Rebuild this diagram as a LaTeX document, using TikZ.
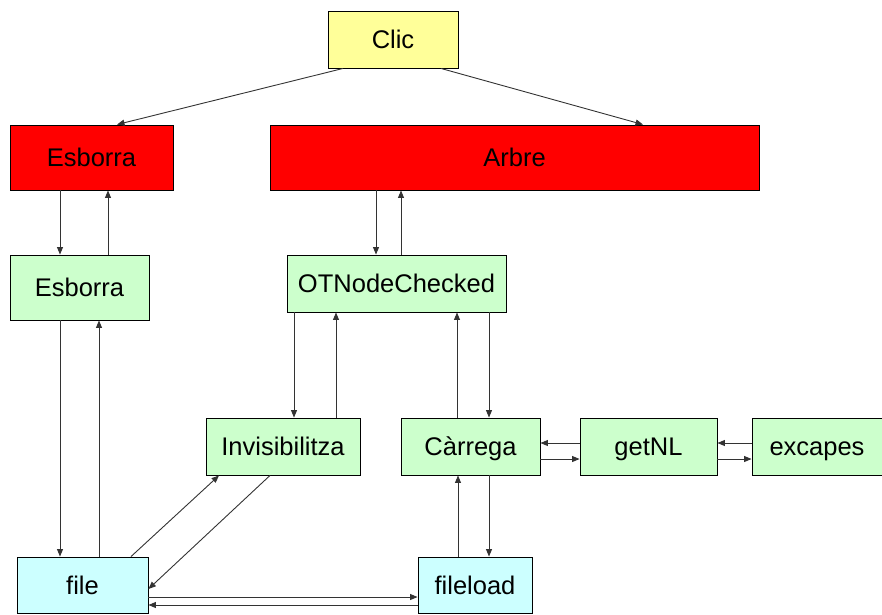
\documentclass[tikz,border=0pt]{standalone}
\usepackage{fontspec}
\setmainfont{Liberation Sans}
\usetikzlibrary{arrows.meta}
\definecolor{cyel}{HTML}{FFFF99}
\definecolor{cred}{HTML}{FF0000}
\definecolor{cgrn}{HTML}{CCFFCC}
\definecolor{ccya}{HTML}{CCFFFF}
\definecolor{cline}{HTML}{333333}
\begin{document}
\begin{tikzpicture}[x=1pt,y=-1pt,
  box/.style={draw=black,line width=0.9pt,inner sep=0pt,text height=18pt,text depth=0pt,font=\fontsize{25.5}{30}\selectfont},
  conn/.style={draw=cline,line width=0.9pt,-{Triangle[length=7.5pt,width=6pt]}}]
\useasboundingbox (0,0) rectangle (882,614);
\node[box,fill=cyel,minimum width=130pt,minimum height=57pt] (clic) at (393,39.5) {Clic};
\node[box,fill=cred,minimum width=163pt,minimum height=65pt] (esr) at (91.5,157.5) {Esborra};
\node[box,fill=cred,minimum width=489pt,minimum height=65pt] (arb) at (514.5,157.5) {Arbre};
\node[box,fill=cgrn,minimum width=139pt,minimum height=65pt] (esg) at (79.5,287.5) {Esborra};
\node[box,fill=cgrn,minimum width=219pt,minimum height=57pt] (otn) at (396.5,283.5) {OTNodeChecked};
\node[box,fill=cgrn,minimum width=154pt,minimum height=57pt] (inv) at (283,446.5) {Invisibilitza};
\node[box,fill=cgrn,minimum width=139pt,minimum height=57pt] (car) at (470.5,446.5) {Càrrega};
\node[box,fill=cgrn,minimum width=137pt,minimum height=57pt] (get) at (648.5,446.5) {getNL};
\node[box,fill=cgrn,minimum width=130pt,minimum height=57pt] (exc) at (817,446.5) {excapes};
\node[box,fill=ccya,minimum width=131pt,minimum height=56pt] (file) at (82.5,585) {file};
\node[box,fill=ccya,minimum width=114pt,minimum height=56pt] (fld) at (475,585) {fileload};
% Clic
\draw[conn] (clic.south -| 343,0) -- (esr.north -| 117,0);
\draw[conn] (clic.south -| 441,0) -- (arb.north -| 643,0);
% Esborra red <-> green
\draw[conn] (esr.south -| 60,0) -- (esg.north -| 60,0);
\draw[conn] (esg.north -| 108,0) -- (esr.south -| 108,0);
% Arbre <-> OTNodeChecked
\draw[conn] (arb.south -| 376,0) -- (otn.north -| 376,0);
\draw[conn] (otn.north -| 401,0) -- (arb.south -| 401,0);
% Esborra green <-> file
\draw[conn] (esg.south -| 60,0) -- (file.north -| 60,0);
\draw[conn] (file.north -| 99,0) -- (esg.south -| 99,0);
% OTNode <-> Invisibilitza
\draw[conn] (otn.south -| 294,0) -- (inv.north -| 294,0);
\draw[conn] (inv.north -| 336,0) -- (otn.south -| 336,0);
% OTNode <-> Carrega
\draw[conn] (car.north -| 457,0) -- (otn.south -| 457,0);
\draw[conn] (otn.south -| 489,0) -- (car.north -| 489,0);
% Carrega <-> fileload
\draw[conn] (fld.north -| 458,0) -- (car.south -| 458,0);
\draw[conn] (car.south -| 489,0) -- (fld.north -| 489,0);
% Carrega <-> getNL
\draw[conn] (get.west |- 0,443) -- (car.east |- 0,443);
\draw[conn] (car.east |- 0,459) -- (get.west |- 0,459);
% getNL <-> excapes
\draw[conn] (exc.west |- 0,443) -- (get.east |- 0,443);
\draw[conn] (get.east |- 0,459) -- (exc.west |- 0,459);
% file <-> Invisibilitza
\draw[conn] (file.north -| 131,0) -- (inv.south -| 219,0);
\draw[conn] (inv.south -| 270,0) -- (file.east |- 0,589);
% file <-> fileload
\draw[conn] (file.east |- 0,597) -- (fld.west |- 0,597);
\draw[conn] (fld.west |- 0,605) -- (file.east |- 0,605);
\end{tikzpicture}
\end{document}
